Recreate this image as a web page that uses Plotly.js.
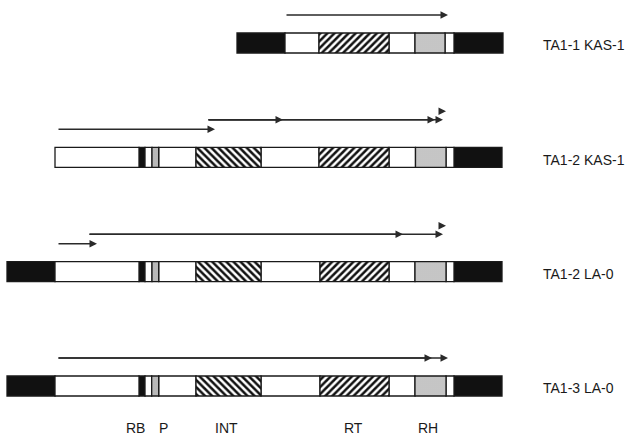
<!DOCTYPE html>
<html>
<head>
<meta charset="utf-8">
<script src="https://cdn.plot.ly/plotly-3.0.1.min.js"></script>
<style>html,body{margin:0;padding:0;background:#fff}#chart{width:638px;height:438px}</style>
</head>
<body>
<div id="chart"></div>
<script>
// ---- data (positions along the element axis) ----
const rowNames = ['TA1-1 KAS-1', 'TA1-2 KAS-1', 'TA1-2 LA-0', 'TA1-3 LA-0'];

const bounds1 = [237, 285, 319, 389, 415, 445, 454, 503];
const kinds1  = ['ltr', 'body', 'rt', 'body', 'rh', 'body', 'ltr'];

const bounds2 = [55, 139, 145, 152, 158.7, 196, 261, 319, 389, 415.5, 446, 454, 502];
const kinds2  = ['body', 'rb', 'body', 'p', 'body', 'int', 'body', 'rt', 'body', 'rh', 'body', 'ltr'];

const bounds3 = [7, 55, 139, 145, 152, 158.7, 196, 261, 320, 389, 415, 446, 454, 502];
const kinds3  = ['ltr', 'body', 'rb', 'body', 'p', 'body', 'int', 'body', 'rt', 'body', 'rh', 'body', 'ltr'];

const bounds4 = [7, 55, 139, 145, 151.7, 158.7, 196, 261, 320, 389, 415, 446, 454, 502];
const kinds4  = ['ltr', 'body', 'rb', 'body', 'p', 'body', 'int', 'body', 'rt', 'body', 'rh', 'body', 'ltr'];

// transcripts (arrows): row index, tier above the bar, start, end
const arrowRow  = [0,   1,  1,   1,   1,   1,   2,  2,  2,   2,   3,  3];
const arrowTier = [1,   1,  2,   2,   2,   3,   1,  2,  2,   3,   1,  1];
const arrowFrom = [285, 57, 207, 207, 207, 439, 57, 88, 88,  440, 57, 57];
const arrowTo   = [448, 215, 283, 435, 443, 446, 97, 403, 443, 446, 432, 448];

// domain labels
const domainNames = ['RB', 'P', 'INT', 'RT', 'RH'];
const domainPos   = [135, 163, 226, 353, 428];

// ---- build ----
const allBounds = [bounds1, bounds2, bounds3, bounds4];
const allKinds = [kinds1, kinds2, kinds3, kinds4];

const styles = {
  ltr:  {color: '#111111'},
  rb:   {color: '#111111'},
  body: {color: '#ffffff'},
  int:  {color: '#ffffff', pattern: {shape: '\\', fgcolor: '#111', bgcolor: '#fff', size: 5, solidity: 0.5}},
  rt:   {color: '#ffffff', pattern: {shape: '/', fgcolor: '#111', bgcolor: '#fff', size: 5, solidity: 0.5}},
  rh:   {color: '#d4d4d4', pattern: {shape: '.', fgcolor: '#9a9a9a', bgcolor: '#dedede', size: 2, solidity: 0.35}},
  p:    {color: '#cccccc', pattern: {shape: '.', fgcolor: '#888', bgcolor: '#d8d8d8', size: 2, solidity: 0.4}}
};

const BAR_H = 0.175;
const traces = [];
Object.keys(styles).forEach(kind => {
  const ys = [], xs = [], bs = [];
  allKinds.forEach((kinds, r) => {
    kinds.forEach((k, i) => {
      if (k === kind) {
        ys.push(r);
        bs.push(allBounds[r][i]);
        xs.push(allBounds[r][i + 1] - allBounds[r][i]);
      }
    });
  });
  const st = styles[kind];
  const marker = {color: st.color, line: {color: '#1a1a1a', width: 1.3}};
  if (st.pattern) marker.pattern = st.pattern;
  traces.push({
    type: 'bar', orientation: 'h', y: ys, x: xs, base: bs,
    width: BAR_H, marker: marker, hoverinfo: 'skip', showlegend: false
  });
});

const tierOffset = {1: 0.245, 2: 0.328, 3: 0.402};
const annotations = [];
arrowRow.forEach((r, i) => {
  const yy = r - tierOffset[arrowTier[i]];
  annotations.push({
    x: arrowTo[i], y: yy, ax: arrowFrom[i], ay: yy,
    xref: 'x', yref: 'y', axref: 'x', ayref: 'y',
    text: '', showarrow: true, arrowhead: 2, arrowsize: 1.0, arrowwidth: 1.5,
    arrowcolor: '#2a2a2a', standoff: 0, startstandoff: 0
  });
});

rowNames.forEach((name, r) => {
  annotations.push({
    x: 541, y: r + 0.02, xref: 'x', yref: 'y', text: name, showarrow: false,
    xanchor: 'left', yanchor: 'middle',
    font: {family: 'Liberation Sans, Arial, sans-serif', size: 14, color: '#1a1a1a'}
  });
});

domainNames.forEach((name, i) => {
  annotations.push({
    x: domainPos[i], y: 3 + 0.367, xref: 'x', yref: 'y', text: name, showarrow: false,
    xanchor: 'center', yanchor: 'middle',
    font: {family: 'Liberation Sans, Arial, sans-serif', size: 14, color: '#1a1a1a'}
  });
});

const layout = {
  width: 638, height: 438,
  margin: {l: 0, r: 0, t: 0, b: 0, pad: 0},
  paper_bgcolor: '#ffffff', plot_bgcolor: '#ffffff',
  barmode: 'overlay',
  xaxis: {range: [0, 638], visible: false, fixedrange: true},
  yaxis: {range: [3.455, -0.376], visible: false, fixedrange: true},
  annotations: annotations,
  showlegend: false
};

Plotly.newPlot('chart', traces, layout, {staticPlot: true, displayModeBar: false});
</script>
</body>
</html>
